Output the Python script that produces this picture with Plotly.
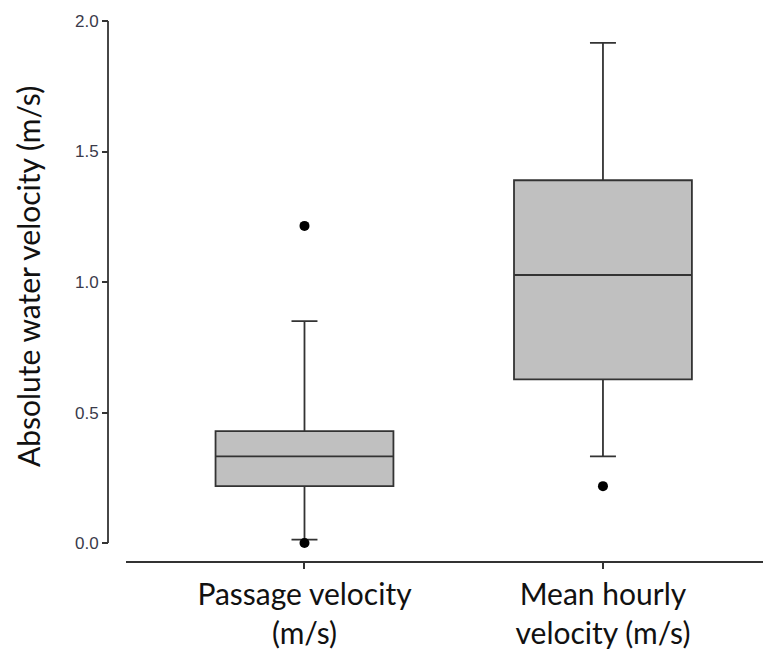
import plotly.graph_objects as go

categories = ["Passage velocity<br>(m/s)", "Mean hourly<br>velocity (m/s)"]
q1 = [0.218, 0.627]
median = [0.332, 1.027]
q3 = [0.429, 1.390]
lowerfence = [0.013, 0.332]
upperfence = [0.850, 1.916]
outlier_x = [categories[0], categories[0], categories[1]]
outlier_y = [1.215, 0.0, 0.218]
y_ticks = [0.0, 0.5, 1.0, 1.5, 2.0]
y_ticktext = ["0.0", "0.5", "1.0", "1.5", "2.0"]

# page has an 8px body margin; compensate so the figure fills the 771x650 window
OFF = 8
W, H = 771 - OFF, 650 - OFF
L, R, T, B = 108 - OFF, 0, 21 - OFF, 87
plot_w = W - L - R
plot_h = H - T - B
xdom0 = 18 / plot_w

FONT = "Lato, Open Sans, sans-serif"

fig = go.Figure()
fig.add_trace(go.Box(
    x=categories, q1=q1, median=median, q3=q3,
    lowerfence=lowerfence, upperfence=upperfence,
    width=0.596, whiskerwidth=0.146,
    fillcolor="#c0c0c0",
    line=dict(color="#333333", width=1.8),
    boxpoints=False, hoverinfo="skip", showlegend=False,
))
fig.add_trace(go.Scatter(
    x=outlier_x, y=outlier_y, mode="markers",
    marker=dict(color="black", size=10),
    showlegend=False, cliponaxis=False,
))

fig.add_shape(type="line", xref="paper", yref="y",
              x0=0, x1=0, y0=0, y1=2.0,
              line=dict(color="#333333", width=1.8))

fig.add_annotation(text="Absolute water velocity (m/s)", textangle=-90,
                   xref="paper", yref="paper",
                   x=(28 - 108) / plot_w, y=(563 - 278) / plot_h,
                   showarrow=False, xanchor="center", yanchor="middle",
                   borderpad=0,
                   font=dict(family=FONT, size=30, color="#111111"))

fig.update_layout(
    width=W, height=H,
    margin=dict(l=L, r=R, t=T, b=B, pad=0),
    paper_bgcolor="white", plot_bgcolor="white",
    xaxis=dict(
        domain=[xdom0, 1], type="category",
        categoryorder="array", categoryarray=categories,
        range=[-0.598, 1.563],
        showline=True, linecolor="#333333", linewidth=1.8,
        ticks="outside", ticklen=6, tickwidth=1.5, tickcolor="#333333",
        showgrid=False, zeroline=False,
        tickfont=dict(family=FONT, size=30, color="#111111"),
    ),
    yaxis=dict(
        anchor="free", position=0,
        range=[-0.0687, 2.0],
        tickvals=y_ticks, ticktext=y_ticktext,
        showline=False, ticks="outside", ticklen=6, tickwidth=1.5, tickcolor="#333333",
        showgrid=False, zeroline=False,
        tickfont=dict(family="Liberation Sans, Arial, sans-serif", size=17, color="#3a3a4a"),
    ),
)

fig.write_html("out.html")
